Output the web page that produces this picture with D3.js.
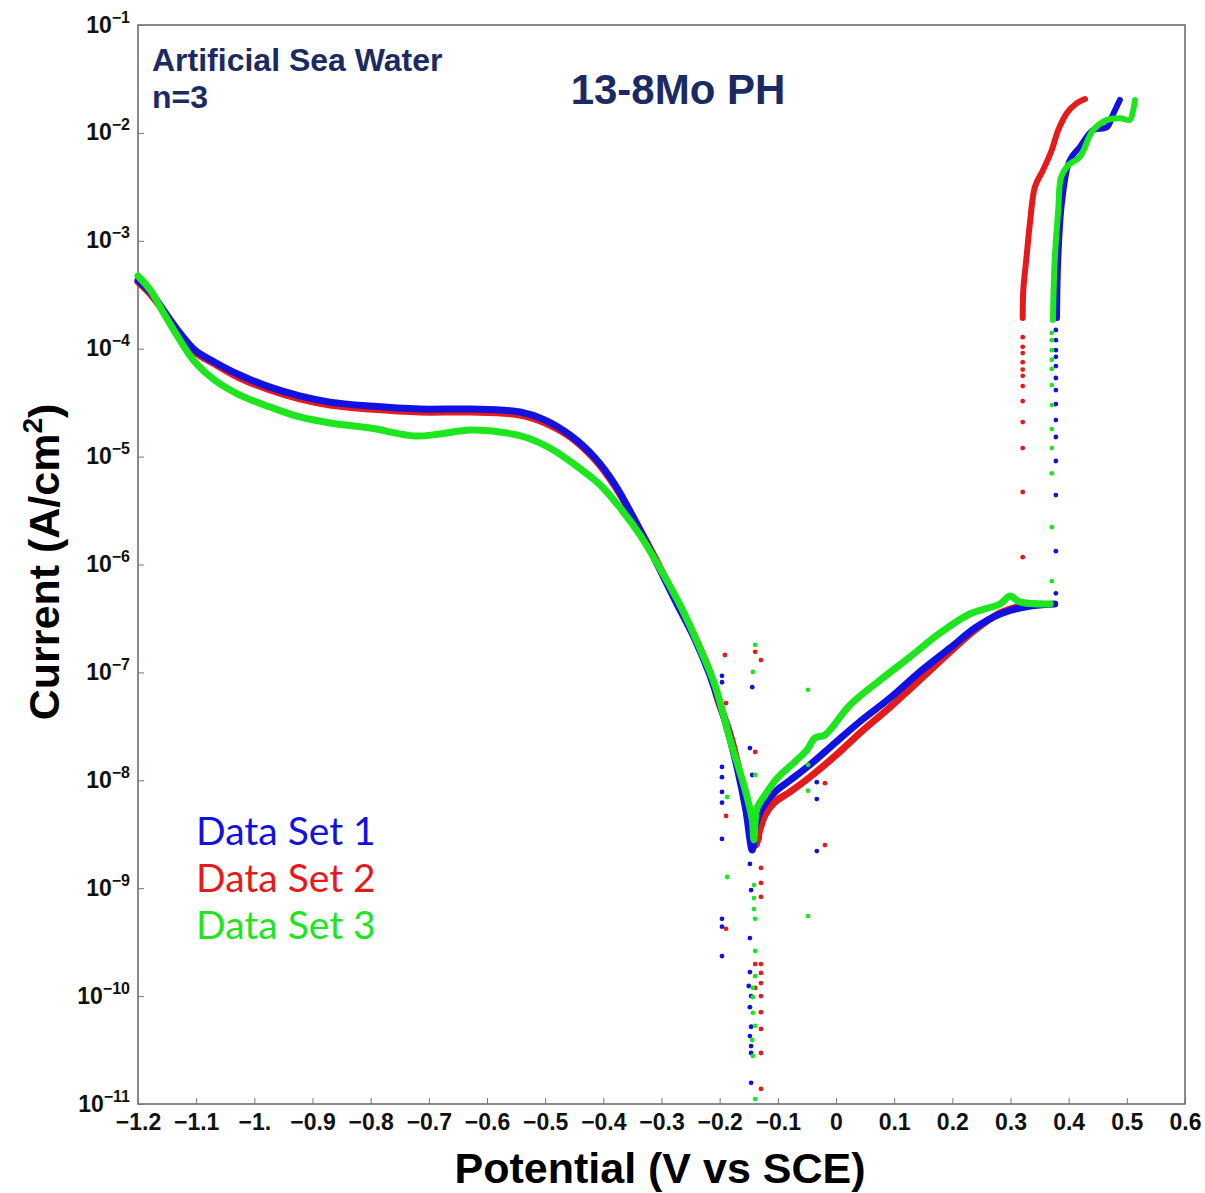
<!DOCTYPE html>
<html lang="en">
<head>
    <meta charset="UTF-8">
    <title>13-8Mo PH polarization curves</title>
    <script src="https://d3js.org/d3.v7.min.js"></script>
    <style>
        body { margin: 0; background: #fff; }
        .tick text { font-family: "Liberation Sans", Arial, sans-serif; font-weight: bold; fill: #111; }
        .axis-title { font-family: "Liberation Sans", Arial, sans-serif; font-weight: bold; fill: #000; }
        .note { font-family: "Liberation Sans", Arial, sans-serif; font-weight: bold; fill: #1b2a63; }
        .legend { font-family: Lato, "Open Sans", sans-serif; }
    </style>
</head>
<body>
<svg width="1205" height="1193"></svg>
<script>
    // axis ticks
    const xTicks = [-1.2, -1.1, -1.0, -0.9, -0.8, -0.7, -0.6, -0.5, -0.4, -0.3, -0.2, -0.1, 0, 0.1, 0.2, 0.3, 0.4, 0.5, 0.6];
    const xTickLabels = ["\u22121.2", "\u22121.1", "\u22121.", "\u22120.9", "\u22120.8", "\u22120.7", "\u22120.6", "\u22120.5", "\u22120.4", "\u22120.3", "\u22120.2", "\u22120.1", "0", "0.1", "0.2", "0.3", "0.4", "0.5", "0.6"];
    const yExponents = [-1, -2, -3, -4, -5, -6, -7, -8, -9, -10, -11];

    const seriesNames = ["Data Set 1", "Data Set 2", "Data Set 3"];
    const seriesColors = ["#1212e0", "#e61a1a", "#1ee61e"];

    // [potential V, current A/cm2] -- data set 1 (blue)
    const set1Curve = [
        [-1.2, 4.3e-4], [-1.179, 3.35e-4], [-1.154, 2.19e-4], [-1.128, 1.40e-4], [-1.102, 9.7e-5],
        [-1.068, 7.5e-5], [-1.025, 5.7e-5], [-0.973, 4.4e-5], [-0.922, 3.65e-5], [-0.870, 3.2e-5],
        [-0.801, 2.94e-5], [-0.715, 2.76e-5], [-0.629, 2.76e-5], [-0.543, 2.59e-5], [-0.500, 2.18e-5],
        [-0.457, 1.58e-5], [-0.414, 9.7e-6], [-0.380, 5.5e-6], [-0.346, 2.58e-6], [-0.311, 1.10e-6],
        [-0.277, 4.7e-7], [-0.242, 2.0e-7], [-0.217, 9.5e-8], [-0.191, 3.6e-8], [-0.169, 1.24e-8],
        [-0.155, 5.3e-9], [-0.144, 2.26e-9],
        [-0.138, 3.86e-9], [-0.127, 5.5e-9], [-0.105, 7.8e-9], [-0.079, 1.0e-8], [-0.045, 1.39e-8],
        [0.0, 2.26e-8], [0.041, 3.5e-8], [0.093, 5.8e-8], [0.144, 1.01e-7], [0.196, 1.68e-7],
        [0.239, 2.58e-7], [0.282, 3.48e-7], [0.325, 4.04e-7], [0.376, 4.3e-7]
    ];
    const set1Upper = [
        [0.380, 1.93e-4], [0.382, 6.6e-4], [0.389, 2.39e-3], [0.402, 5.6e-3], [0.419, 7.4e-3],
        [0.442, 1.06e-2], [0.466, 1.13e-2], [0.476, 1.47e-2], [0.488, 2.02e-2]
    ];
    const set1Dots = [
        [0.378, 5.4e-7], [0.378, 1.33e-6], [0.378, 4.4e-6], [0.378, 9.1e-6], [0.378, 1.52e-5],
        [0.378, 2.18e-5], [0.378, 3.07e-5], [0.378, 4.14e-5], [0.378, 5.35e-5], [0.378, 6.9e-5],
        [0.378, 8.4e-5], [0.378, 9.7e-5], [0.378, 1.2e-4], [0.378, 1.49e-4],
        [-0.196, 9.3e-8], [-0.196, 8.1e-8], [-0.144, 7.3e-8], [-0.148, 1.99e-8], [-0.196, 1.33e-8],
        [-0.196, 1.07e-8], [-0.196, 7.8e-9], [-0.196, 6.2e-9], [-0.196, 2.86e-9], [-0.144, 1.12e-8],
        [-0.033, 9.6e-9], [-0.033, 6.7e-9], [-0.033, 2.21e-9], [-0.148, 1.68e-9], [-0.146, 9.6e-10],
        [-0.196, 5.2e-10], [-0.196, 4.4e-10], [-0.148, 3.45e-10], [-0.196, 2.35e-10], [-0.148, 1.67e-10],
        [-0.150, 1.24e-10], [-0.146, 1.0e-10], [-0.148, 7.9e-11], [-0.146, 5.2e-11], [-0.148, 4.26e-11],
        [-0.146, 3.44e-11], [-0.146, 2.97e-11], [-0.146, 1.57e-11]
    ];

    // data set 2 (red)
    const set2Curve = [
        [-1.2, 4.15e-4], [-1.179, 3.21e-4], [-1.154, 2.14e-4], [-1.128, 1.37e-4], [-1.102, 9.3e-5],
        [-1.068, 7.2e-5], [-1.025, 5.35e-5], [-0.973, 4.14e-5], [-0.922, 3.42e-5], [-0.870, 3.0e-5],
        [-0.801, 2.76e-5], [-0.715, 2.59e-5], [-0.629, 2.59e-5], [-0.543, 2.43e-5], [-0.500, 2.05e-5],
        [-0.457, 1.52e-5], [-0.414, 9.3e-6], [-0.380, 5.3e-6], [-0.346, 2.58e-6], [-0.311, 1.15e-6],
        [-0.277, 4.9e-7], [-0.242, 2.08e-7], [-0.217, 1.01e-7], [-0.203, 5.5e-8], [-0.189, 3.47e-8],
        [-0.179, 2.36e-8], [-0.161, 9.0e-9], [-0.148, 3.86e-9], [-0.138, 2.51e-9],
        [-0.131, 3.46e-9], [-0.122, 4.77e-9], [-0.105, 6.3e-9], [-0.079, 7.8e-9], [-0.045, 1.07e-8],
        [0.0, 1.71e-8], [0.041, 2.74e-8], [0.093, 4.77e-8], [0.144, 8.5e-8], [0.196, 1.55e-7],
        [0.239, 2.47e-7], [0.282, 3.56e-7], [0.316, 4.12e-7]
    ];
    const set2Upper = [
        [0.321, 1.93e-4], [0.322, 3.5e-4], [0.327, 6.6e-4], [0.334, 1.56e-3], [0.342, 3.16e-3],
        [0.356, 4.53e-3], [0.371, 6.95e-3], [0.382, 1.06e-2], [0.397, 1.53e-2], [0.414, 1.89e-2],
        [0.428, 2.06e-2]
    ];
    const set2Dots = [
        [0.321, 1.17e-6], [0.321, 4.7e-6], [0.321, 1.2e-5], [0.321, 2.09e-5], [0.321, 3.27e-5],
        [0.321, 4.5e-5], [0.321, 5.6e-5], [0.321, 6.4e-5], [0.321, 7.5e-5], [0.321, 9.1e-5],
        [0.321, 1.04e-4], [0.321, 1.28e-4],
        [-0.191, 1.45e-7], [-0.139, 1.55e-7], [-0.129, 1.30e-7], [-0.189, 5.2e-8], [-0.139, 1.83e-8],
        [-0.189, 4.67e-9], [-0.019, 9.4e-9], [-0.019, 2.51e-9], [-0.131, 2.92e-9], [-0.129, 1.54e-9],
        [-0.129, 1.12e-9], [-0.129, 8.3e-10], [-0.189, 4.2e-10], [-0.139, 1.98e-10], [-0.129, 1.98e-10],
        [-0.129, 1.64e-10], [-0.129, 1.32e-10], [-0.139, 1.19e-10], [-0.129, 1.0e-10], [-0.129, 7.1e-11],
        [-0.129, 4.96e-11], [-0.129, 2.97e-11], [-0.129, 1.38e-11]
    ];

    // data set 3 (green)
    const set3Curve = [
        [-1.2, 4.72e-4], [-1.179, 3.5e-4], [-1.154, 2.05e-4], [-1.128, 1.2e-4], [-1.102, 7.5e-5],
        [-1.068, 5.1e-5], [-1.025, 3.72e-5], [-0.973, 2.88e-5], [-0.922, 2.33e-5], [-0.870, 2.05e-5],
        [-0.801, 1.84e-5], [-0.724, 1.55e-5], [-0.681, 1.62e-5], [-0.629, 1.76e-5], [-0.578, 1.69e-5],
        [-0.535, 1.52e-5], [-0.492, 1.2e-5], [-0.449, 8.4e-6], [-0.406, 5.5e-6], [-0.371, 3.34e-6],
        [-0.337, 1.88e-6], [-0.303, 9.3e-7], [-0.268, 4.2e-7], [-0.234, 1.68e-7], [-0.208, 7.6e-8],
        [-0.182, 2.36e-8], [-0.156, 8.1e-9], [-0.144, 4.3e-9], [-0.141, 2.8e-9],
        [-0.136, 5.5e-9], [-0.122, 7.3e-9], [-0.101, 1.05e-8], [-0.071, 1.48e-8], [-0.050, 1.91e-8],
        [-0.036, 2.47e-8], [-0.019, 2.63e-8], [0.024, 4.99e-8], [0.076, 8.5e-8], [0.127, 1.39e-7],
        [0.179, 2.32e-7], [0.230, 3.48e-7], [0.282, 4.3e-7], [0.299, 5.1e-7], [0.316, 4.5e-7],
        [0.368, 4.3e-7]
    ];
    const set3Upper = [
        [0.373, 1.85e-4], [0.376, 6.6e-4], [0.382, 1.93e-3], [0.387, 3.9e-3], [0.399, 5.0e-3],
        [0.419, 5.98e-3], [0.442, 1.06e-2], [0.466, 1.32e-2], [0.488, 1.37e-2], [0.505, 1.32e-2],
        [0.511, 1.63e-2], [0.514, 2.02e-2]
    ];
    const set3Dots = [
        [0.371, 7.0e-7], [0.371, 2.22e-6], [0.371, 7.0e-6], [0.371, 1.2e-5], [0.371, 1.8e-5],
        [0.371, 3.0e-5], [0.371, 4.6e-5], [0.371, 6.5e-5], [0.371, 7.9e-5], [0.371, 9.7e-5],
        [0.371, 1.2e-4], [0.371, 1.4e-4],
        [-0.139, 1.8e-7], [-0.143, 1.01e-7], [-0.048, 6.9e-8], [-0.187, 3.4e-8], [-0.187, 2.92e-8],
        [-0.139, 1.12e-8], [-0.187, 7.0e-9], [-0.048, 8.0e-9], [-0.048, 1.39e-8], [-0.187, 1.27e-9],
        [-0.141, 1.07e-9], [-0.141, 8.1e-10], [-0.141, 6.4e-10], [-0.139, 5.2e-10], [-0.048, 5.5e-10],
        [-0.139, 2.62e-10], [-0.139, 1.53e-10], [-0.143, 1.19e-10], [-0.143, 9.8e-11], [-0.143, 7.0e-11],
        [-0.139, 5.3e-11], [-0.144, 3.92e-11], [-0.143, 2.79e-11], [-0.139, 1.11e-11]
    ];

    const svg = d3.select("svg");

    const plotLeft = 138, plotRight = 1185, plotTop = 25, plotBottom = 1104;

    const x = d3.scaleLinear().domain([-1.2, 0.6]).range([plotLeft, plotRight]);
    const y = d3.scaleLog().domain([1e-11, 1e-1]).range([plotBottom, plotTop]);

    // frame
    svg.append("rect")
        .attr("x", plotLeft).attr("y", plotTop)
        .attr("width", plotRight - plotLeft).attr("height", plotBottom - plotTop)
        .attr("fill", "none").attr("stroke", "#666").attr("stroke-width", 1.5);

    // x axis
    const xAxis = svg.append("g")
        .attr("transform", "translate(0," + plotBottom + ")")
        .call(d3.axisBottom(x)
            .tickValues(xTicks)
            .tickSize(-6)
            .tickPadding(10)
            .tickFormat((d, i) => xTickLabels[i]));
    xAxis.select(".domain").remove();
    xAxis.selectAll(".tick line").attr("stroke", "#777");
    xAxis.selectAll(".tick text").style("font-size", "23px");

    // y axis
    const yAxis = svg.append("g")
        .attr("transform", "translate(" + plotLeft + ",0)")
        .call(d3.axisLeft(y)
            .tickValues(yExponents.map(e => Math.pow(10, e)))
            .tickSize(-6)
            .tickPadding(5)
            .tickFormat(""));
    yAxis.select(".domain").remove();
    yAxis.selectAll(".tick line").attr("stroke", "#777");
    yAxis.selectAll(".tick").each(function(d, i) {
        const t = d3.select(this).append("text")
            .attr("x", -8).attr("y", 7)
            .attr("text-anchor", "end")
            .attr("fill", "#111");
        t.append("tspan").style("font-size", "23px").text("10");
        t.append("tspan").style("font-size", "16px").attr("dy", -10)
            .text("\u2212" + Math.abs(yExponents[i]));
    });

    // curves
    const line = d3.line()
        .x(d => x(d[0]))
        .y(d => y(d[1]))
        .curve(d3.curveCatmullRom.alpha(0.5));

    const curves = [set2Curve, set1Curve, set3Curve];
    const uppers = [set2Upper, set1Upper, set3Upper];
    const dots = [set2Dots, set1Dots, set3Dots];
    const colorOrder = [seriesColors[1], seriesColors[0], seriesColors[2]];

    const plot = svg.append("g");
    curves.forEach((c, i) => {
        plot.append("path").datum(c)
            .attr("d", line)
            .attr("fill", "none")
            .attr("stroke", colorOrder[i])
            .attr("stroke-width", 7)
            .attr("stroke-linejoin", "round")
            .attr("stroke-linecap", "round");
        plot.append("path").datum(uppers[i])
            .attr("d", line)
            .attr("fill", "none")
            .attr("stroke", colorOrder[i])
            .attr("stroke-width", 6)
            .attr("stroke-linejoin", "round")
            .attr("stroke-linecap", "round");
    });
    dots.forEach((ds, i) => {
        plot.append("g").selectAll("circle")
            .data(ds)
            .enter().append("circle")
            .attr("cx", d => x(d[0]))
            .attr("cy", d => y(d[1]))
            .attr("r", 2.4)
            .attr("fill", colorOrder[i]);
    });

    // notes and title
    svg.append("text").attr("class", "note")
        .attr("x", 152).attr("y", 71)
        .style("font-size", "32px")
        .text("Artificial Sea Water");
    svg.append("text").attr("class", "note")
        .attr("x", 152).attr("y", 108)
        .style("font-size", "32px")
        .text("n=3");
    svg.append("text").attr("class", "note")
        .attr("x", 678).attr("y", 104)
        .attr("text-anchor", "middle")
        .style("font-size", "42px")
        .text("13-8Mo PH");

    // legend
    seriesNames.forEach((name, i) => {
        svg.append("text").attr("class", "legend")
            .attr("x", 196).attr("y", 845 + i * 47)
            .attr("fill", seriesColors[i])
            .style("font-size", "39px")
            .text(name);
    });

    // axis titles
    svg.append("text").attr("class", "axis-title")
        .attr("x", 660).attr("y", 1183)
        .attr("text-anchor", "middle")
        .style("font-size", "43px")
        .text("Potential (V vs SCE)");

    const yt = svg.append("text").attr("class", "axis-title")
        .attr("transform", "translate(59,562) rotate(-90)")
        .attr("text-anchor", "middle")
        .style("font-size", "43px");
    yt.append("tspan").text("Current (A/cm");
    yt.append("tspan").attr("dy", -17).style("font-size", "28px").text("2");
    yt.append("tspan").attr("dy", 17).text(")");
</script>
</body>
</html>
